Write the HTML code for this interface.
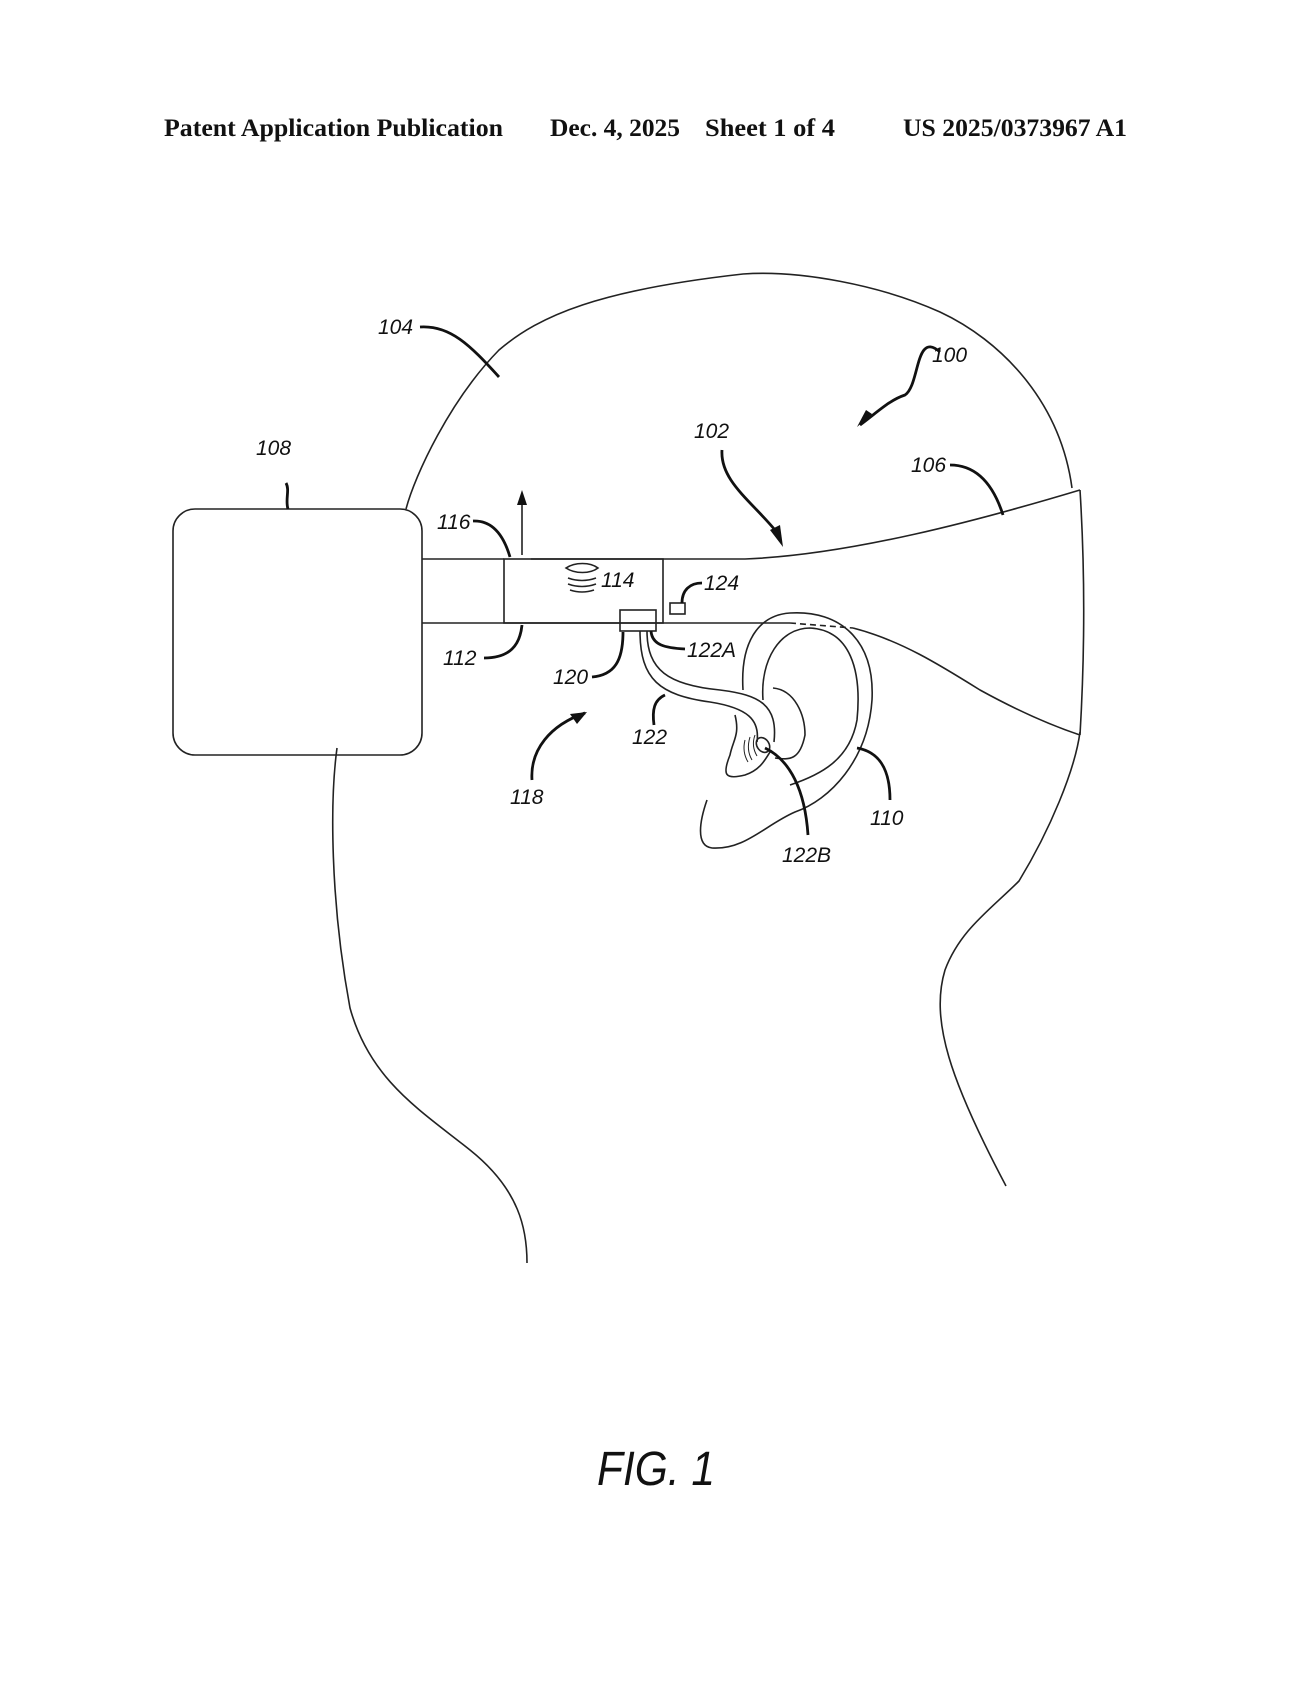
<!DOCTYPE html>
<html><head><meta charset="utf-8"><style>
html,body{margin:0;padding:0;background:#fff;}
svg{display:block;}
.h{font-family:"Liberation Serif",serif;font-weight:bold;font-size:25px;fill:#111;}
.l{font-family:"Liberation Sans",sans-serif;font-style:italic;font-size:21px;fill:#111;}
</style></head><body>
<svg width="1299" height="1681" viewBox="0 0 1299 1681" xmlns="http://www.w3.org/2000/svg">
<text class="h" x="164" y="136" textLength="339" lengthAdjust="spacingAndGlyphs">Patent Application Publication</text>
<text class="h" x="550" y="136" textLength="130" lengthAdjust="spacingAndGlyphs">Dec. 4, 2025</text>
<text class="h" x="705" y="136" textLength="130" lengthAdjust="spacingAndGlyphs">Sheet 1 of 4</text>
<text class="h" x="903" y="136" textLength="224" lengthAdjust="spacingAndGlyphs">US 2025/0373967 A1</text>

<g fill="none" stroke="#222" stroke-width="1.6">
<!-- head -->
<path d="M406 509 C415 475,450 400,499 350 C540 315,600 290,743 274 C800 270,880 285,940 312 C1000 340,1060 400,1072 488"/>
<path d="M1080 732 C1075 770,1050 830,1019 881 C990 910,960 930,945 970 C930 1020,950 1080,1006 1186"/>
<path d="M337 748 C330 800,330 900,350 1008 C370 1080,420 1110,470 1150 C520 1190,527 1230,527 1263"/>
<!-- box 108 -->
<rect x="173" y="509" width="249" height="246" rx="22"/>
<!-- band -->
<path d="M422 559 H504 M531 559 H663 H745 C850 555,980 520,1080 490"/>
<path d="M422 623 H663 H790"/>
<path d="M790 623 L853 628" stroke-dasharray="6 4"/>
<path d="M853 628 C900 640,940 665,980 690 C1020 712,1050 725,1080 735"/>
<path d="M1080 490 C1085 570,1085 650,1080 735"/>
<rect x="504" y="559" width="159" height="64"/>
<rect x="620" y="610" width="36" height="21"/>
<rect x="670" y="603" width="15" height="11"/>
<!-- speaker -->
<path d="M566 568 C575 562,590 562,598 568 C590 574,575 574,566 568 Z"/>
<path d="M568 578 Q582 583 596 578 M568 584 Q582 589 596 584 M570 590 Q582 594 594 590"/>
<!-- arrow up -->
<path d="M522 555 V500"/>
<!-- ear -->
<path d="M743 690 C740 640,760 615,790 613 C840 610,875 640,872 700 C868 760,830 800,795 812 C765 825,745 850,712 848 C695 846,700 820,707 800"/>
<path d="M763 700 C760 660,780 628,810 628 C850 630,862 670,857 720 C850 760,820 775,790 785"/>
<path d="M773 688 C795 690,805 715,805 735 C800 760,790 760,775 758"/>
<path d="M735 715 C740 735,733 740,730 755 C722 775,725 780,745 775 C760 770,765 760,770 752"/>
<path d="M745 740 Q742 752 748 762 M750 737 Q746 750 752 760 M755 735 Q751 746 757 756" stroke-width="1"/>
<!-- tube 122 -->
<path d="M647 631 C647 670,668 685,720 690 C760 695,778 705,774 742"/>
<path d="M640 631 C640 680,660 695,710 702 C748 708,760 720,757 742"/>
<ellipse cx="763" cy="745" rx="6" ry="8" transform="rotate(-35 763 745)"/>
</g>

<!-- leaders (thick) -->
<g fill="none" stroke="#111" stroke-width="2.8">
<path d="M420 327 C450 325,470 345,499 377"/>
<path d="M722 450 C720 480,750 500,775 530"/>
<path d="M950 465 C980 465,995 490,1003 515"/>
<path d="M286 483 C290 490,285 500,288 509"/>
<path d="M473 521 C495 520,505 540,510 557"/>
<path d="M702 583 C690 583,682 590,682 603"/>
<path d="M484 658 C510 658,520 645,522 625"/>
<path d="M592 677 C615 675,623 660,623 632"/>
<path d="M651 631 C652 645,665 648,685 649"/>
<path d="M654 725 C652 710,654 700,665 695"/>
<path d="M532 780 C530 750,550 725,585 713"/>
<path d="M857 748 C880 752,890 770,890 800"/>
<path d="M765 748 C790 760,805 790,808 835"/>
<path d="M940 352 C915 330,920 385,905 395 C890 400,880 410,860 425"/>
</g>
<g fill="#111">
<polygon points="522,490 517,505 527,505"/>
<polygon points="783,547 770,530 780,525"/>
<polygon points="587,712 570,714 577,724"/>
<polygon points="857,427 872,414 866,410"/>
</g>

<text class="l" x="378" y="334">104</text>
<text class="l" x="932" y="362">100</text>
<text class="l" x="694" y="438">102</text>
<text class="l" x="911" y="472">106</text>
<text class="l" x="256" y="455">108</text>
<text class="l" x="437" y="529">116</text>
<text class="l" x="601" y="587">114</text>
<text class="l" x="704" y="590">124</text>
<text class="l" x="443" y="665">112</text>
<text class="l" x="553" y="684">120</text>
<text class="l" x="687" y="657">122A</text>
<text class="l" x="632" y="744">122</text>
<text class="l" x="510" y="804">118</text>
<text class="l" x="870" y="825">110</text>
<text class="l" x="782" y="862">122B</text>

<text x="597" y="1485" font-family="Liberation Sans, sans-serif" font-style="italic" font-size="48" fill="#111" textLength="118" lengthAdjust="spacingAndGlyphs">FIG. 1</text>
</svg>
</body></html>
